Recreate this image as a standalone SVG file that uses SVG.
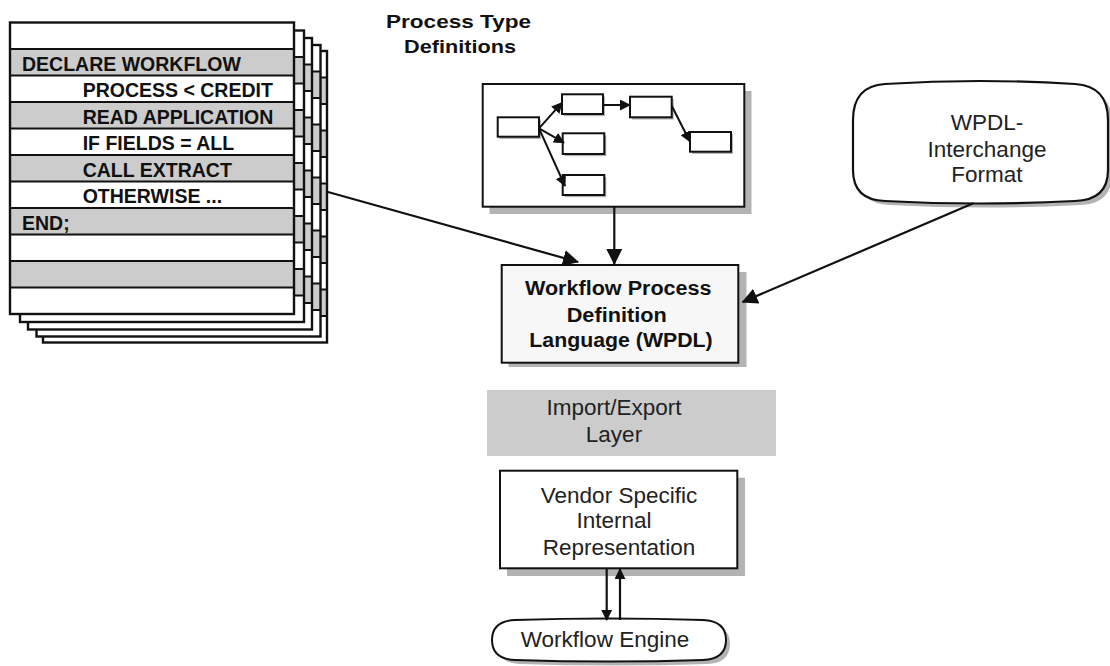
<svg xmlns="http://www.w3.org/2000/svg" xmlns:xlink="http://www.w3.org/1999/xlink" width="1110" height="666" viewBox="0 0 1110 666">
  <style>
    .bold { font-family: "Liberation Sans", Arial, sans-serif; font-weight: bold; fill: #111; }
    .reg { font-family: "Liberation Sans", Arial, sans-serif; fill: #222; font-size: 22.5px; }
    .code { font-size: 19.5px; }
    .shadow { fill: #b3b3b3; stroke: none; }
    .box { fill: #fff; stroke: #111; stroke-width: 2; }
    .conn { fill: none; stroke: #111; stroke-width: 2.2; }
    .thin { fill: none; stroke: #111; stroke-width: 2; }
    .row { fill: #cccccc; }
    .rule { stroke: #111; stroke-width: 1.8; }
  </style>
  <defs>
    <marker id="arrowBig" markerUnits="userSpaceOnUse" viewBox="0 0 16 16" refX="15" refY="8" markerWidth="16" markerHeight="16" orient="auto">
      <path d="M0,0 L16,8 L0,16 Z" fill="#111"/>
    </marker>
    <marker id="arrowSmall" markerUnits="userSpaceOnUse" viewBox="0 0 12 12" refX="11" refY="6" markerWidth="11" markerHeight="11" orient="auto">
      <path d="M0,0 L12,6 L0,12 Z" fill="#111"/>
    </marker>
    <!-- one sheet of the stacked listing -->
    <g id="page">
      <rect x="0" y="0" width="284" height="291.5" fill="#fff"/>
      <rect class="row" x="0" y="26.5" width="284" height="26.5"/>
      <rect class="row" x="0" y="79.5" width="284" height="26.5"/>
      <rect class="row" x="0" y="132.5" width="284" height="26.5"/>
      <rect class="row" x="0" y="185.5" width="284" height="26.5"/>
      <rect class="row" x="0" y="238.5" width="284" height="26.5"/>
      <path class="rule" d="M0,26.5H284M0,53H284M0,79.5H284M0,106H284M0,132.5H284M0,159H284M0,185.5H284M0,212H284M0,238.5H284M0,265H284"/>
      <rect x="0" y="0" width="284" height="291.5" fill="none" stroke="#111" stroke-width="2.4"/>
    </g>
  </defs>

  <rect width="1110" height="666" fill="#fff"/>

  <!-- stacked workflow script listing -->
  <g id="script-listing">
    <use xlink:href="#page" x="43" y="51"/>
    <use xlink:href="#page" x="36.5" y="45"/>
    <use xlink:href="#page" x="28" y="38"/>
    <use xlink:href="#page" x="20" y="30.5"/>
    <use xlink:href="#page" x="10" y="22.5"/>
    <text class="bold code" x="22" y="70.5">DECLARE WORKFLOW</text>
    <text class="bold code" x="82.7" y="97">PROCESS &lt; CREDIT</text>
    <text class="bold code" x="82.7" y="123.5">READ APPLICATION</text>
    <text class="bold code" x="82.7" y="150">IF FIELDS = ALL</text>
    <text class="bold code" x="82.7" y="176.5">CALL EXTRACT</text>
    <text class="bold code" x="82.7" y="203">OTHERWISE ...</text>
    <text class="bold code" x="22" y="229.5">END;</text>
  </g>

  <!-- process type definitions -->
  <g id="process-types">
    <text class="bold" font-size="19px" x="386" y="28.3" textLength="145" lengthAdjust="spacingAndGlyphs">Process Type</text>
    <text class="bold" font-size="19px" x="404" y="53.3" textLength="112" lengthAdjust="spacingAndGlyphs">Definitions</text>
    <rect class="shadow" x="489.5" y="91" width="262" height="123"/>
    <rect class="box" x="482.7" y="84" width="261.6" height="122.7" stroke-width="2.5"/>
    <g id="step-boxes">
      <rect class="shadow" x="499.5" y="119.5" width="41.5" height="19.5"/>
      <rect class="box" x="497.7" y="117.3" width="41.3" height="19.4"/>
      <rect class="shadow" x="564" y="96.5" width="41" height="19.7"/>
      <rect class="box" x="562" y="94.3" width="41" height="19.7"/>
      <rect class="shadow" x="564.7" y="135.5" width="41.6" height="20.7"/>
      <rect class="box" x="562.7" y="133.3" width="41.6" height="20.7"/>
      <rect class="shadow" x="564.7" y="177.2" width="41.6" height="20"/>
      <rect class="box" x="562.7" y="175" width="41.6" height="20"/>
      <rect class="shadow" x="632" y="99" width="41.7" height="20.6"/>
      <rect class="box" x="630" y="96.7" width="41.7" height="20.6"/>
      <rect class="shadow" x="692" y="134.2" width="41" height="19.7"/>
      <rect class="box" x="690" y="132" width="41" height="19.7"/>
    </g>
    <g id="step-links">
      <path class="thin" d="M539,128.3 L562,102.7" marker-end="url(#arrowSmall)"/>
      <path class="thin" d="M539,128.3 L564,142.7" marker-end="url(#arrowSmall)"/>
      <path class="thin" d="M539,128.3 L565,186" marker-end="url(#arrowSmall)"/>
      <path class="thin" d="M603,105 L630,105" marker-end="url(#arrowSmall)"/>
      <path class="thin" d="M671.7,105.7 L690,141.7" marker-end="url(#arrowSmall)"/>
    </g>
  </g>

  <!-- interchange format -->
  <g id="interchange">
    <path class="shadow" d="M890,88 Q985,82 1080,88 Q1112,90 1112,124 L1112,174 Q1112,204 1080,205 Q985,210 890,205 Q858,204 858,174 Z"/>
    <path d="M885,84 Q980,78 1075,84 Q1108,86 1108,120 L1108,170 Q1108,200 1075,201 Q980,206 885,201 Q853,200 853,170 L853,120 Q853,86 885,84 Z" fill="#fff" stroke="#111" stroke-width="2.2"/>
    <text class="reg" text-anchor="middle" x="987" y="130">WPDL-</text>
    <text class="reg" text-anchor="middle" x="987" y="156.7">Interchange</text>
    <text class="reg" text-anchor="middle" x="987" y="181.7">Format</text>
  </g>

  <!-- definition language -->
  <g id="wpdl">
    <rect class="shadow" x="508.5" y="272" width="238" height="95"/>
    <rect x="501.7" y="265" width="236.6" height="97.7" fill="#f7f7f7" stroke="#111" stroke-width="2"/>
    <text class="bold" font-size="19.5px" text-anchor="middle" x="618.3" y="295" textLength="186.7" lengthAdjust="spacingAndGlyphs">Workflow Process</text>
    <text class="bold" font-size="19.5px" text-anchor="middle" x="616.7" y="321.7" textLength="100" lengthAdjust="spacingAndGlyphs">Definition</text>
    <text class="bold" font-size="19.5px" text-anchor="middle" x="621" y="347" textLength="183.3" lengthAdjust="spacingAndGlyphs">Language (WPDL)</text>
  </g>

  <!-- import / export layer -->
  <g id="import-export">
    <rect x="487" y="390" width="289" height="66" fill="#cccccc"/>
    <text class="reg" text-anchor="middle" x="614" y="415">Import/Export</text>
    <text class="reg" text-anchor="middle" x="614" y="441.7">Layer</text>
  </g>

  <!-- vendor internal representation -->
  <g id="vendor">
    <rect class="shadow" x="507" y="477.7" width="238" height="98.3"/>
    <rect x="500" y="470.7" width="237.3" height="97.6" fill="#fff" stroke="#111" stroke-width="2"/>
    <text class="reg" text-anchor="middle" x="619" y="503.3">Vendor Specific</text>
    <text class="reg" text-anchor="middle" x="614" y="528.3">Internal</text>
    <text class="reg" text-anchor="middle" x="619" y="555">Representation</text>
  </g>

  <!-- workflow engine -->
  <g id="engine">
    <path class="shadow" d="M520,624 Q613,621 707,624 Q730,625 730,644 Q730,663 707,664 Q613,667 520,664 Q497,663 497,644 Z"/>
    <path d="M515,620 Q609,617 703,620 Q726,621 726,640 Q726,659 703,660 Q609,663 515,660 Q492,659 492,640 Q492,621 515,620 Z" fill="#fff" stroke="#111" stroke-width="2"/>
    <text class="reg" text-anchor="middle" x="605" y="647.3">Workflow Engine</text>
  </g>

  <!-- connectors -->
  <g id="connectors">
    <path class="conn" d="M328,192 L578,262" marker-end="url(#arrowBig)"/>
    <path class="conn" d="M614.3,207 L614.3,264" marker-end="url(#arrowBig)"/>
    <path class="conn" d="M973.3,203.3 L742.5,302" marker-end="url(#arrowBig)"/>
    <path class="conn" d="M606.7,569 L606.7,620" marker-end="url(#arrowSmall)"/>
    <path class="conn" d="M620,620 L620,569" marker-end="url(#arrowSmall)"/>
  </g>
</svg>
